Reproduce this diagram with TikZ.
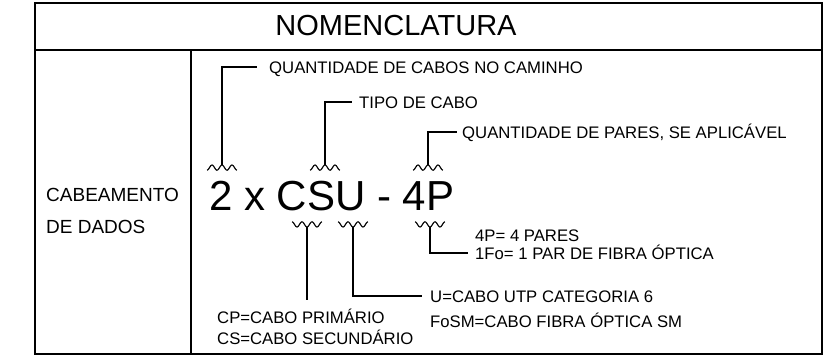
\documentclass[tikz,border=0pt]{standalone}
\usepackage{fontspec}
\setmainfont{Liberation Sans}
\usepackage{tikz}
\usetikzlibrary{positioning}

\begin{document}
\begin{tikzpicture}[x=1pt,y=-1pt]
    \tikzstyle{frame}=[line width=1.8pt]
    \tikzstyle{lead}=[line width=1.2pt]
    \tikzstyle{wave}=[line width=1.15pt]
    \tikzstyle{label}=[anchor=west,inner ysep=0pt,inner xsep=7pt,text height=12pt,text depth=0pt,
        font=\fontsize{16.7}{20}\selectfont]

    \useasboundingbox (0,0) rectangle (828,360);

    % table
    \draw[frame] (35,3) rectangle (822,354);
    \draw[frame] (35,50) -- (822,50);
    \draw[frame] (191,50) -- (191,354);

    \node (title) at (396,26) {\fontsize{29}{34}\selectfont NOMENCLATURA};
    \node[anchor=west,inner sep=0pt,font=\fontsize{19}{23}\selectfont] (cab1) at (46,195) {CABEAMENTO};
    \node[anchor=west,inner sep=0pt,font=\fontsize{19}{23}\selectfont] (cab2) at (46,227) {DE DADOS};

    % code
    \node[anchor=base west,inner sep=0pt,font=\fontsize{42}{48}\selectfont] (code) at (209,210) {2 x CSU - 4P};

    % marks
    \coordinate (t2) at (222,165);
    \coordinate (ts) at (325,165);
    \coordinate (t4) at (428,165);
    \coordinate (bcs) at (307,227);
    \coordinate (bu) at (353,227);
    \coordinate (b4) at (430,227);

    \foreach \c in {t2,ts,t4}
        \draw[wave,shift={(\c)}] plot[domain=-15:15,samples=41,smooth] (\x,{2.6-2.6*cos(36*\x)});
    \foreach \c in {bcs,bu,b4}
        \draw[wave,shift={(\c)}] plot[domain=-15:15,samples=41,smooth] (\x,{2.6*cos(36*\x)-2.6});

    % labels
    \node[label,inner xsep=12pt] (qcab) at (257,67) {QUANTIDADE DE CABOS NO CAMINHO};
    \node[label] (tipo) at (352,102) {TIPO DE CABO};
    \node[label,inner xsep=5pt] (qpar) at (457,132) {QUANTIDADE DE PARES, SE APLICÁVEL};
    \node[label] (p4) at (468,235) {4P= 4 PARES};
    \node[label] (fo1) at (468,253) {1Fo= 1 PAR DE FIBRA ÓPTICA};
    \node[label,inner xsep=8pt] (u6) at (422,296) {U=CABO UTP CATEGORIA 6};
    \node[label,inner xsep=8pt] (fosm) at (422,321) {FoSM=CABO FIBRA ÓPTICA SM};
    \node[label,inner xsep=0pt] (cp) at (217,317) {CP=CABO PRIMÁRIO};
    \node[label,inner xsep=0pt] (cs) at (217,338) {CS=CABO SECUNDÁRIO};

    % leaders
    \draw[lead] (t2) |- (qcab.west);
    \draw[lead] (ts) |- (tipo.west);
    \draw[lead] (t4) |- (qpar.west);
    \draw[lead] (b4) |- (fo1.west);
    \draw[lead] (bu) |- (u6.west);
    \draw[lead,shorten >=11pt] (bcs) -- (bcs |- cp.north);
\end{tikzpicture}
\end{document}
